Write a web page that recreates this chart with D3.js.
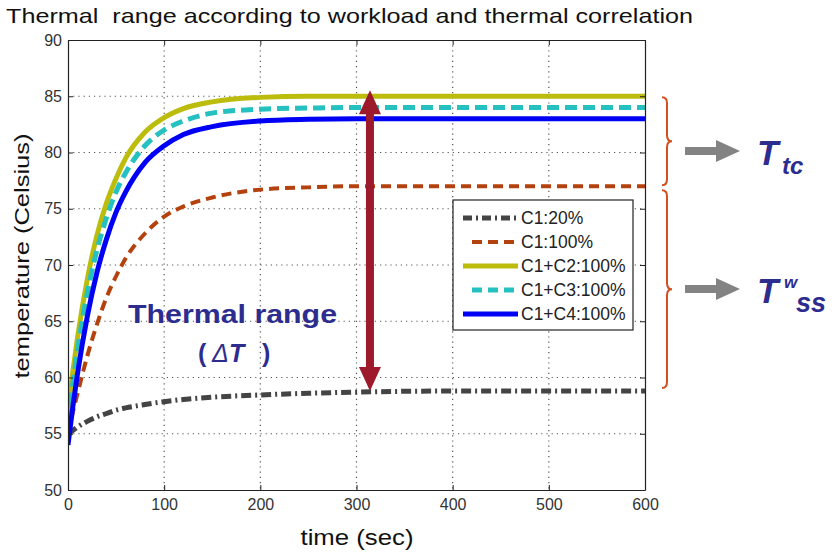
<!DOCTYPE html>
<html>
<head>
<meta charset="utf-8">
<script src="https://cdn.jsdelivr.net/npm/d3@7"></script>
<style>
  body { margin: 0; background: #fff; }
  svg { display: block; }
  text { font-family: "Liberation Sans", Arial, Helvetica, sans-serif; }
</style>
</head>
<body>
<svg id="chart" width="836" height="554"></svg>
<script>
// ---- data ----
const timeSec = [0, 5, 10, 20, 30, 40, 50, 60, 80, 100, 120, 150, 200, 250, 300, 400, 500, 600];
const seriesNames = ["C1:20%", "C1:100%", "C1+C2:100%", "C1+C3:100%", "C1+C4:100%"];
const tempC1At20 = [55.0, 55.3, 55.6, 56.1, 56.5, 56.8, 57.1, 57.3, 57.6, 57.85, 58.05, 58.25, 58.45, 58.6, 58.7, 58.8, 58.8, 58.8];
const tempC1At100 = [55.0, 56.9, 58.6, 61.9, 64.7, 67.1, 69.0, 70.6, 72.8, 74.3, 75.2, 76.0, 76.7, 76.9, 77.0, 77.0, 77.0, 77.0];
const tempC1C2 = [57.0, 60.5, 63.6, 68.7, 72.6, 75.5, 77.7, 79.5, 81.8, 83.1, 83.9, 84.5, 84.9, 85.0, 85.0, 85.0, 85.0, 85.0];
const tempC1C3 = [56.0, 59.4, 62.5, 67.5, 71.3, 74.2, 76.5, 78.2, 80.6, 82.0, 82.8, 83.5, 83.85, 83.95, 84.0, 84.0, 84.0, 84.0];
const tempC1C4 = [54.0, 57.4, 60.4, 65.4, 69.3, 72.3, 74.7, 76.5, 79.1, 80.6, 81.6, 82.3, 82.8, 82.95, 83.0, 83.0, 83.0, 83.0];
const xTickValues = [0, 100, 200, 300, 400, 500, 600];
const yTickValues = [50, 55, 60, 65, 70, 75, 80, 85, 90];
const rangeArrowTime = 314;        // where the thermal-range arrow is placed
const steadyLow = 58.8, steadyHigh = 85, steadyWorkload = 77;

const titleText = "Thermal  range according to workload and thermal correlation";
const xTitle = "time (sec)";
const yTitle = "temperature (Celsius)";

// ---- styles ----
const seriesValues = [tempC1At20, tempC1At100, tempC1C2, tempC1C3, tempC1C4];
const seriesStyle = [
  { color: "#444444", width: 5, dash: "10,4,2,4", legendDash: "9,4,2,4" },
  { color: "#b4420f", width: 4, dash: "10,6", legendDash: "10,6" },
  { color: "#bcbc0c", width: 5, dash: null, legendDash: null },
  { color: "#25c0c0", width: 5, dash: "12,6", legendDash: "10,6" },
  { color: "#0000f5", width: 5, dash: null, legendDash: null }
];
const navy = "#2c2d8e";
const braceColor = "#d2501e";

const svg = d3.select("#chart");
const L = 68, R = 645, T = 40, B = 490;
const x = d3.scaleLinear().domain([0, 600]).range([L, R]);
const y = d3.scaleLinear().domain([50, 90]).range([B, T]);

// title
svg.append("text")
  .attr("x", 6).attr("y", 23)
  .attr("font-size", 21)
  .attr("textLength", 687).attr("lengthAdjust", "spacingAndGlyphs")
  .style("white-space", "pre")
  .attr("fill", "#111")
  .text(titleText);

// plot background
svg.append("rect").attr("x", L).attr("y", T).attr("width", R - L).attr("height", B - T).attr("fill", "#fff");

// dotted grid
const grid = svg.append("g").attr("stroke", "#555").attr("stroke-width", 1.2)
  .attr("stroke-dasharray", "1.2,4");
xTickValues.filter(v => v > 0 && v < 600).forEach(v => {
  grid.append("line").attr("x1", x(v)).attr("x2", x(v)).attr("y1", T).attr("y2", B);
});
yTickValues.filter(v => v > 50 && v < 90).forEach(v => {
  grid.append("line").attr("x1", L).attr("x2", R).attr("y1", y(v)).attr("y2", y(v));
});

// curves
svg.append("defs").append("clipPath").attr("id", "plotClip")
  .append("rect").attr("x", L).attr("y", T).attr("width", R - L).attr("height", B - T);
const line = d3.line().x(d => x(d[0])).y(d => y(d[1])).curve(d3.curveMonotoneX);
const curves = svg.append("g").attr("clip-path", "url(#plotClip)");
seriesValues.forEach((vals, i) => {
  const pts = timeSec.map((t, k) => [t, vals[k]]);
  const st = seriesStyle[i];
  curves.append("path").datum(pts)
    .attr("d", line)
    .attr("fill", "none")
    .attr("stroke", st.color)
    .attr("stroke-width", st.width)
    .attr("stroke-dasharray", st.dash)
    .attr("stroke-linejoin", "round");
});

// axes (ticks pointing inward)
const axisFont = 16, axisColor = "#333";
const axBottom = svg.append("g").attr("transform", `translate(0,${B})`)
  .call(d3.axisBottom(x).tickValues(xTickValues).tickSizeInner(-5).tickSizeOuter(0).tickPadding(9));
const axLeft = svg.append("g").attr("transform", `translate(${L},0)`)
  .call(d3.axisLeft(y).tickValues(yTickValues).tickSizeInner(-5).tickSizeOuter(0).tickPadding(6));
const axTop = svg.append("g").attr("transform", `translate(0,${T})`)
  .call(d3.axisTop(x).tickValues(xTickValues).tickSizeInner(-5).tickSizeOuter(0).tickFormat(""));
const axRight = svg.append("g").attr("transform", `translate(${R},0)`)
  .call(d3.axisRight(y).tickValues(yTickValues).tickSizeInner(-5).tickSizeOuter(0).tickFormat(""));
[axBottom, axLeft, axTop, axRight].forEach(g => {
  g.select(".domain").attr("stroke", "#222").attr("stroke-width", 1.2);
  g.selectAll(".tick line").attr("stroke", "#222");
  g.selectAll("text").attr("font-size", axisFont).attr("fill", axisColor)
    .attr("font-family", "'Liberation Sans', Arial, sans-serif");
});

// axis titles
svg.append("text")
  .attr("x", 357).attr("y", 545)
  .attr("text-anchor", "middle")
  .attr("font-size", 22)
  .attr("textLength", 113).attr("lengthAdjust", "spacingAndGlyphs")
  .attr("fill", "#111")
  .text(xTitle);
svg.append("text")
  .attr("transform", "translate(29,256) rotate(-90)")
  .attr("text-anchor", "middle")
  .attr("font-size", 20)
  .attr("textLength", 245).attr("lengthAdjust", "spacingAndGlyphs")
  .attr("fill", "#111")
  .text(yTitle);

// legend
const lg = svg.append("g");
lg.append("rect").attr("x", 453).attr("y", 200).attr("width", 180).attr("height", 130)
  .attr("fill", "#fff").attr("stroke", "#222").attr("stroke-width", 1.2);
seriesNames.forEach((name, i) => {
  const yy = 218 + i * 24;
  const st = seriesStyle[i];
  const x0 = st.dash ? (i === 0 ? 463 : 472) : 463;
  lg.append("line").attr("x1", x0).attr("x2", 518).attr("y1", yy).attr("y2", yy)
    .attr("stroke", st.color).attr("stroke-width", st.width)
    .attr("stroke-dasharray", st.legendDash);
  lg.append("text").attr("x", 521).attr("y", yy + 6)
    .attr("font-size", 17.5).attr("fill", "#222")
    .text(name);
});

// double-headed thermal range arrow
const ax = x(rangeArrowTime);
const yTop = y(steadyHigh) - 6, yBot = y(steadyLow);
const headL = 24, headW = 11, shaftW = 4;
svg.append("path")
  .attr("d", [
    `M${ax},${yTop}`,
    `L${ax + headW},${yTop + headL}`,
    `L${ax + shaftW},${yTop + headL}`,
    `L${ax + shaftW},${yBot - headL}`,
    `L${ax + headW},${yBot - headL}`,
    `L${ax},${yBot}`,
    `L${ax - headW},${yBot - headL}`,
    `L${ax - shaftW},${yBot - headL}`,
    `L${ax - shaftW},${yTop + headL}`,
    `L${ax - headW},${yTop + headL}`, "Z"].join(""))
  .attr("fill", "#9c1a2c");

// "Thermal range (ΔT)" label
svg.append("text").attr("x", 128).attr("y", 323)
  .attr("font-size", 25).attr("font-weight", "bold")
  .attr("textLength", 209).attr("lengthAdjust", "spacingAndGlyphs")
  .attr("fill", navy).text("Thermal range");
const dt = svg.append("text").attr("y", 362).attr("font-size", 25).attr("fill", navy).attr("font-weight", "bold");
dt.append("tspan").attr("x", 198).text("(");
dt.append("tspan").attr("x", 212).attr("font-style", "italic").attr("font-weight", "normal").text("Δ");
dt.append("tspan").attr("x", 229).attr("font-style", "italic").text("T");
dt.append("tspan").attr("x", 262).text(")");

// right-hand braces
function brace(yA, yB) {
  const xt = 662, xs = 667, xm = 672, r = 6, ym = (yA + yB) / 2;
  return `M${xt},${yA} Q${xs},${yA} ${xs},${yA + r} L${xs},${ym - r} Q${xs},${ym} ${xm},${ym}` +
         ` Q${xs},${ym} ${xs},${ym + r} L${xs},${yB - r} Q${xs},${yB} ${xt},${yB}`;
}
svg.append("path").attr("d", brace(y(steadyHigh) + 1, y(steadyWorkload) - 1))
  .attr("fill", "none").attr("stroke", braceColor).attr("stroke-width", 2);
svg.append("path").attr("d", brace(y(steadyWorkload) + 4, y(steadyLow) - 3))
  .attr("fill", "none").attr("stroke", braceColor).attr("stroke-width", 2);

// grey arrows pointing at the labels
function greyArrow(cy) {
  return `M685,${cy - 4} L716,${cy - 4} L716,${cy - 11} L740,${cy} L716,${cy + 11} L716,${cy + 4} L685,${cy + 4} Z`;
}
svg.append("path").attr("d", greyArrow(151)).attr("fill", "#838383");
svg.append("path").attr("d", greyArrow(289)).attr("fill", "#838383");

// T_tc and T^w_ss
const lab = svg.append("g").attr("fill", navy).attr("font-weight", "bold").attr("font-style", "italic");
lab.append("text").attr("x", 757).attr("y", 165).attr("font-size", 35).text("T");
lab.append("text").attr("x", 782).attr("y", 174).attr("font-size", 24).text("tc");
lab.append("text").attr("x", 757).attr("y", 303).attr("font-size", 35).text("T");
lab.append("text").attr("x", 784).attr("y", 288).attr("font-size", 17).text("w");
lab.append("text").attr("x", 796).attr("y", 312).attr("font-size", 27).text("ss");
</script>
</body>
</html>
